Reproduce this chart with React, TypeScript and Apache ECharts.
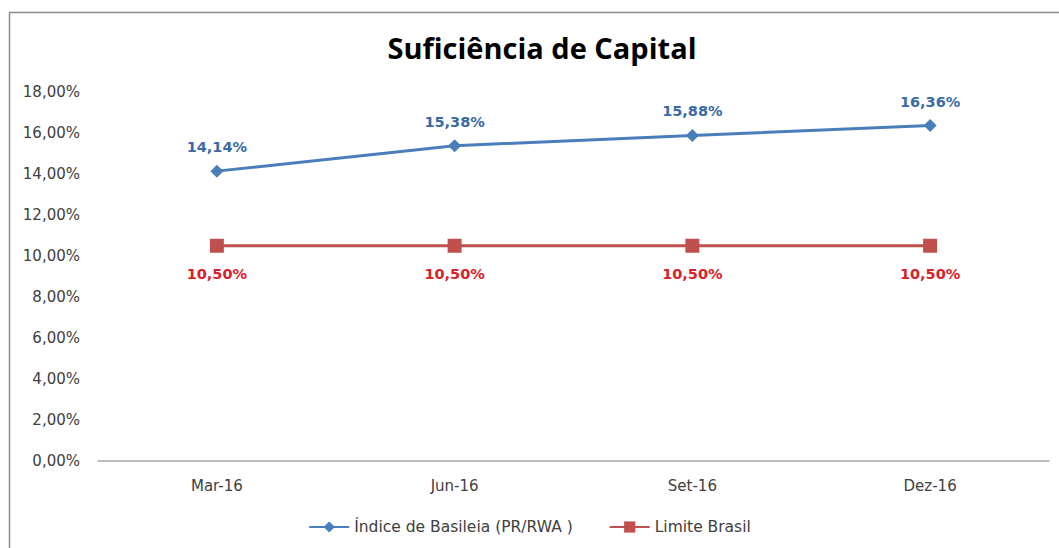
import React, { useEffect, useRef } from "react";
import * as echarts from "echarts";

const categories = ["Mar-16", "Jun-16", "Set-16", "Dez-16"];
const basileia = [14.14, 15.38, 15.88, 16.36];
const limite = [10.5, 10.5, 10.5, 10.5];
const seriesNames = ["Índice de Basileia (PR/RWA )", "Limite Brasil"];
const titleText = "Suficiência de Capital";

const fmt = (v: number) => v.toFixed(2).replace(".", ",") + "%";
const FONT = "'DejaVu Sans', sans-serif";
const TFONT = "'Open Sans', sans-serif";

export default function App() {
  const ref = useRef<HTMLDivElement>(null);
  useEffect(() => {
    if (!ref.current) return;
    const chart = echarts.init(ref.current, null, { renderer: "svg" });
    chart.setOption({
      animation: false,
      backgroundColor: "#ffffff",
      textStyle: { fontFamily: FONT },
      graphic: [
        {
          type: "rect",
          shape: { x: 9.5, y: 12.5, width: 1200, height: 700 },
          style: { fill: "none", stroke: "#8c8c8c", lineWidth: 1.5 },
          silent: true,
        },
      ],
      title: {
        text: titleText,
        left: 537,
        textAlign: "center",
        top: 28,
        textStyle: { fontFamily: TFONT, fontWeight: "bold", fontSize: 29, color: "#000000" },
      },
      legend: {
        bottom: 8,
        left: "center",
        itemWidth: 40,
        itemHeight: 14,
        itemGap: 36,
        textStyle: { fontFamily: FONT, fontSize: 15.5, color: "#404040" },
        data: seriesNames,
      },
      grid: { left: 98, right: 10, top: 92, bottom: 87 },
      xAxis: {
        type: "category",
        data: categories,
        boundaryGap: true,
        axisLine: { lineStyle: { color: "#a6a6a6", width: 1.5 } },
        axisTick: { show: false },
        axisLabel: { fontFamily: FONT, fontSize: 15, color: "#404040", margin: 17 },
      },
      yAxis: {
        type: "value",
        min: 0,
        max: 18,
        interval: 2,
        axisLine: { show: false },
        axisTick: { show: false },
        splitLine: { show: false },
        axisLabel: {
          fontFamily: FONT,
          fontSize: 15,
          color: "#404040",
          margin: 18,
          formatter: (v: number) => fmt(v),
        },
      },
      series: [
        {
          name: seriesNames[0],
          type: "line",
          data: basileia,
          symbol: "diamond",
          symbolSize: 13,
          itemStyle: { color: "#4a7ebb" },
          lineStyle: { color: "#4a7ebb", width: 3 },
          label: {
            show: true,
            position: "top",
            distance: 10,
            fontFamily: FONT,
            fontWeight: "bold",
            fontSize: 14.5,
            color: "#3a6aa5",
            formatter: (p: any) => fmt(p.value),
          },
        },
        {
          name: seriesNames[1],
          type: "line",
          data: limite,
          symbol: "rect",
          symbolSize: 14,
          itemStyle: { color: "#c0504d" },
          lineStyle: { color: "#c0504d", width: 3 },
          label: {
            show: true,
            position: "bottom",
            distance: 14,
            fontFamily: FONT,
            fontWeight: "bold",
            fontSize: 14.5,
            color: "#d92129",
            formatter: (p: any) => fmt(p.value),
          },
        },
      ],
    });
    return () => chart.dispose();
  }, []);
  return (
    <div
      ref={ref}
      style={{ position: "fixed", left: 0, top: 0, width: 1059, height: 548 }}
    />
  );
}
